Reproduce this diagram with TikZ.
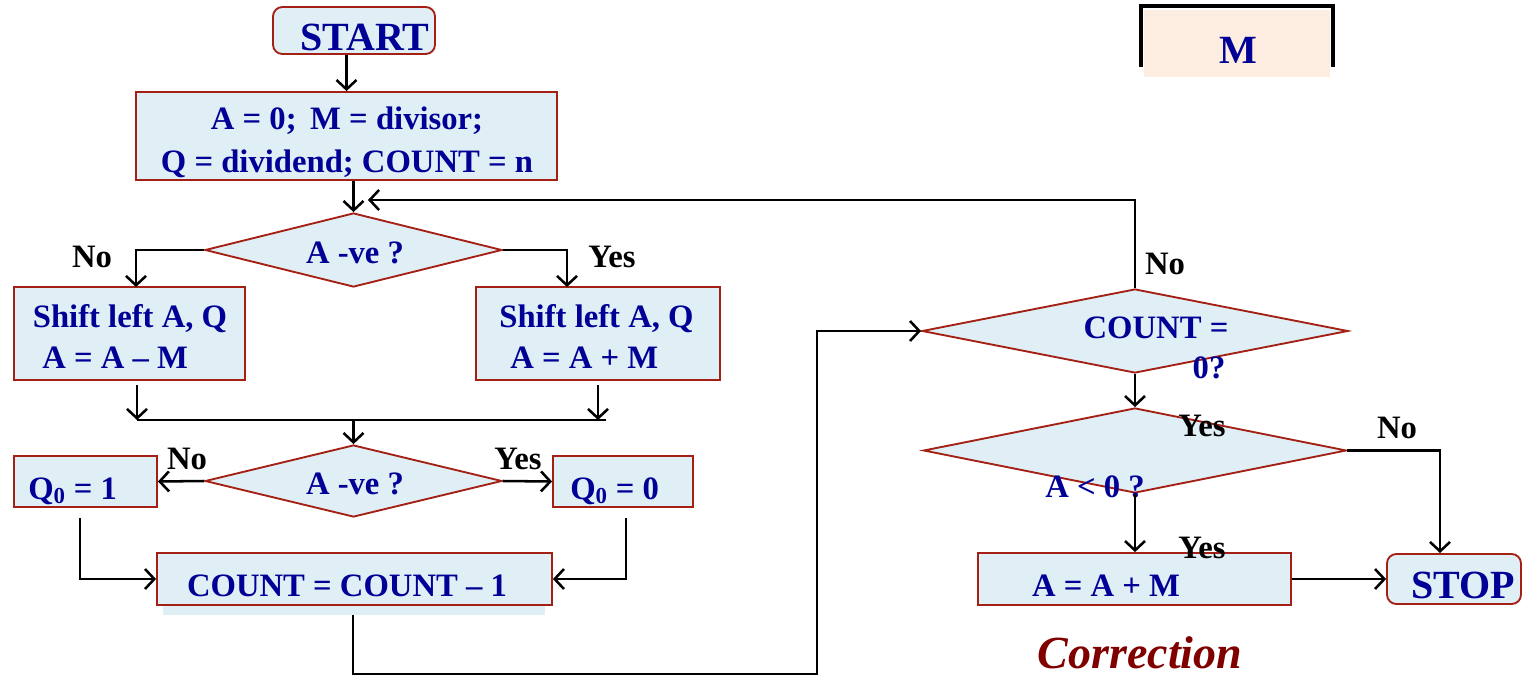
\documentclass[tikz,border=0pt]{standalone}
\usepackage{fontspec}
\setmainfont{Liberation Serif}
\usetikzlibrary{arrows.meta,shapes.geometric,calc}
\definecolor{ink}{RGB}{0,0,150}
\definecolor{boxfill}{RGB}{223,239,245}
\definecolor{edge}{RGB}{165,32,20}
\definecolor{peach}{RGB}{253,236,224}
\definecolor{corr}{RGB}{128,0,0}

\begin{document}
\begin{tikzpicture}[x=0.75pt,y=-0.75pt,
  box/.style={draw=edge,fill=boxfill,line width=1.4pt,inner sep=0pt},
  rbox/.style={box,rounded corners=7pt},
  dia/.style={box,diamond,inner sep=0pt},
  txt/.style={font=\bfseries\fontsize{24.5}{28}\selectfont,text=ink,inner sep=0pt,anchor=base},
  big/.style={txt,font=\bfseries\fontsize{30}{34}\selectfont},
  lab/.style={txt,text=black},
  wire/.style={line width=1.9pt,black},
  arr/.style={wire,-{Straight Barb[length=7pt,width=15pt,line width=1.9pt]}}]
\useasboundingbox (0,0) rectangle (1522,676);

% register M
\fill[peach] (1144,10) rectangle (1330,77);
\draw[line width=2.4pt,black] (1141,67) -- (1141,6) -- (1333,6) -- (1333,67);
\node[big] (mreg) at (1238,63) {M};

% main flow boxes
\node[rbox,minimum width=121.5pt,minimum height=35.25pt] (start) at (354,30.5) {};
\node[box,minimum width=315.75pt,minimum height=66pt] (init) at (346.5,136) {};
\node[dia,minimum width=222.75pt,minimum height=55.5pt] (d1) at (353.5,250) {};
\node[box,minimum width=173.25pt,minimum height=69.75pt] (shl) at (129.5,333.5) {};
\node[box,minimum width=183pt,minimum height=69.75pt] (shr) at (598,333.5) {};
\node[dia,minimum width=222.75pt,minimum height=54pt] (d2) at (353.5,481) {};
\node[box,minimum width=107.25pt,minimum height=38.25pt] (qone) at (85.5,481.5) {};
\node[box,minimum width=105pt,minimum height=38.25pt] (qzero) at (623,481.5) {};
\fill[boxfill] (163,560) rectangle (545,615);
\node[box,minimum width=296.25pt,minimum height=39pt] (count) at (354.5,579) {};

% correction side
\node[dia,minimum width=319.5pt,minimum height=63pt] (d3) at (1135,331) {};
\node[dia,minimum width=317.25pt,minimum height=63.75pt] (d4) at (1135,450.5) {};
\node[box,minimum width=234.75pt,minimum height=39pt] (aam) at (1134.5,579) {};
\node[rbox,minimum width=100.5pt,minimum height=37.5pt] (stop) at (1454,579) {};

% texts
\node[big] (tstart) at (365,50) {START};
\node[txt] (tinit1) at (347,129) {A = 0;\, M = divisor;};
\node[txt] (tinit2) at (347,172) {Q = dividend; COUNT = n};
\node[txt] (td1) at (355,263) {A -ve ?};
\node[lab] (no1) at (92,267) {No};
\node[lab] (yes1) at (612,267) {Yes};
\node[txt] (tshl1) at (130,327) {Shift left A, Q};
\node[txt,anchor=base west] (tshl2) at (42,368) {A = A -- M};
\node[txt] (tshr1) at (596.5,327) {Shift left A, Q};
\node[txt,anchor=base west] (tshr2) at (510,368) {A = A + M};
\node[txt] (td2) at (355,494) {A -ve ?};
\node[lab] (no2) at (187,469) {No};
\node[lab] (yes2) at (518,469) {Yes};
\node[txt,anchor=base west] (tqone) at (28,499) {Q\textsubscript{0} = 1};
\node[txt,anchor=base west] (tqzero) at (570,499) {Q\textsubscript{0} = 0};
\node[txt] (tcount) at (347,596) {COUNT = COUNT -- 1};
\node[lab] (no3) at (1165,274) {No};
\node[txt] (td3a) at (1156,338) {COUNT =};
\node[txt] (td3b) at (1209,378) {0?};
\node[lab] (yes3) at (1202,436) {Yes};
\node[txt] (td4) at (1095,497) {A < 0 ?};
\node[lab] (no4) at (1397,438) {No};
\node[lab] (yes4) at (1202,558) {Yes};
\node[txt] (taam) at (1106,596) {A = A + M};
\node[big] (tstop) at (1463,598) {STOP};
\node[txt,text=corr,font=\bfseries\itshape\fontsize{34.5}{38}\selectfont] (tcorr) at (1140,668) {Correction};

% helper points
\coordinate (jl) at (137,420);
\coordinate (jr) at (606,420);
\coordinate (jm) at (355,420);
\coordinate (loopend) at (368,200);
\coordinate (q1low) at (80,518);
\coordinate (q0low) at (626,518);
\coordinate (cntlow) at (353,615);
\coordinate (stopin) at (1440,553);

% connectors
\draw[arr] (init.north |- start.south) -- (init.north);
\draw[arr] (d1.north |- init.south) -- (d1.north);
\draw[arr] (d1.west) -| (136,287);
\draw[arr] (d1.east) -| (567,287);
\draw[arr] (137,385) -- (jl);
\draw[arr] (598,385) -- (598,420);
\draw[wire] (jl) -- (jr);
\draw[arr] (jm) -- (d2.north |- jm) -- (d2.north);
\draw[arr] (d2.west) -- (qone.east);
\draw[arr] (d2.east) -- (qzero.west);
\draw[arr] (q1low) |- (count.west);
\draw[arr] (q0low) |- (count.east);
\draw[arr] (cntlow) -- (353,674) -- (817,674) |- (d3.west);
\draw[arr] (d3.north) |- (loopend);
\draw[arr] (d3.south) -- (d4.north);
\draw[arr] (d4.east) -| (stopin);
\draw[arr] (d4.south) -- (d4.south |- aam.north);
\draw[arr] (aam.east) -- (stop.west);
\end{tikzpicture}
\end{document}
